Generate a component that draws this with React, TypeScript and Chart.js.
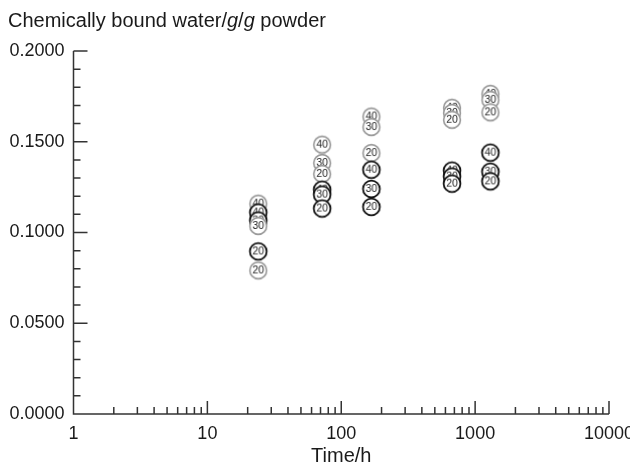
import React, { useEffect, useRef } from 'react';
import { Chart, registerables } from 'chart.js';

Chart.register(...registerables);

// Time (h)
const times = [24, 72, 168, 672, 1300];
// Gray series, labelled by temperature tag inside circles
const gray40 = [0.1159, 0.1484, 0.1639, 0.1687, 0.1764];
const gray30 = [0.1036, 0.1383, 0.1581, 0.1659, 0.1731];
const gray20 = [0.0791, 0.1323, 0.1438, 0.1621, 0.1662];
// Black series
const black40 = [0.1110, 0.1236, 0.1346, 0.1341, 0.1440];
const black30 = [0.1066, 0.1209, 0.1240, 0.1308, 0.1335];
const black20 = [0.0896, 0.1132, 0.1141, 0.1269, 0.1282];

const yTickValues = [0, 0.05, 0.1, 0.15, 0.2];
const xTickValues = [1, 10, 100, 1000, 10000];

const FONT = "'Liberation Sans', Arial, Helvetica, sans-serif";
const GRAY = '#999999';
const BLACK = '#111111';
const AXIS = '#333333';
const TEXT = '#1a1a1a';

const seriesDefs = [
  { tag: '40', color: GRAY, width: 1.6, values: gray40 },
  { tag: '30', color: GRAY, width: 1.6, values: gray30 },
  { tag: '20', color: GRAY, width: 1.6, values: gray20 },
  { tag: '40', color: BLACK, width: 1.8, values: black40 },
  { tag: '30', color: BLACK, width: 1.8, values: black30 },
  { tag: '20', color: BLACK, width: 1.8, values: black20 },
];

function makeMarker(tag: string, color: string, width: number): HTMLCanvasElement {
  const c = document.createElement('canvas');
  c.width = 22;
  c.height = 22;
  const g = c.getContext('2d')!;
  g.beginPath();
  g.arc(11, 11, 8.4, 0, Math.PI * 2);
  g.fillStyle = '#ffffff';
  g.fill();
  g.lineWidth = width;
  g.strokeStyle = color;
  g.stroke();
  g.fillStyle = TEXT;
  g.font = `10.5px ${FONT}`;
  g.textAlign = 'center';
  g.textBaseline = 'middle';
  g.fillText(tag, 11, 11.5);
  return c;
}

const axesPlugin = {
  id: 'customAxes',
  beforeDatasetsDraw(chart: any) {
    const { ctx, scales } = chart;
    const x = scales.x;
    const y = scales.y;
    const x0 = x.getPixelForValue(xTickValues[0]);
    const x1 = x.getPixelForValue(xTickValues[xTickValues.length - 1]);
    const y0 = y.getPixelForValue(yTickValues[0]);
    const y1 = y.getPixelForValue(yTickValues[yTickValues.length - 1]);
    ctx.save();
    ctx.strokeStyle = AXIS;
    ctx.lineWidth = 1.5;
    ctx.beginPath();
    ctx.moveTo(x0, y1);
    ctx.lineTo(x0, y0);
    ctx.lineTo(x1, y0);
    for (let k = 0; k <= 20; k++) {
      const py = y.getPixelForValue(k * 0.01);
      const len = k % 5 === 0 ? 14 : 7;
      ctx.moveTo(x0, py);
      ctx.lineTo(x0 + len, py);
    }
    for (let d = 0; d < xTickValues.length; d++) {
      const dec = xTickValues[d];
      const maxM = d === xTickValues.length - 1 ? 1 : 9;
      for (let m = 1; m <= maxM; m++) {
        const px = x.getPixelForValue(dec * m);
        const len = m === 1 ? 13 : 7;
        ctx.moveTo(px, y0);
        ctx.lineTo(px, y0 - len);
      }
    }
    ctx.stroke();
    ctx.restore();
  },
  afterDraw(chart: any) {
    const { ctx } = chart;
    ctx.save();
    ctx.fillStyle = TEXT;
    ctx.textBaseline = 'alphabetic';
    ctx.textAlign = 'left';
    const parts: [string, boolean][] = [
      ['Chemically bound water/', false],
      ['g', true],
      ['/', false],
      ['g', true],
      [' powder', false],
    ];
    let px = 8;
    for (const [t, it] of parts) {
      ctx.font = `${it ? 'italic ' : ''}20px ${FONT}`;
      ctx.fillText(t, px, 27);
      px += ctx.measureText(t).width;
    }
    ctx.restore();
  },
};

export default function App() {
  const ref = useRef<HTMLCanvasElement | null>(null);
  useEffect(() => {
    if (!ref.current) return;
    const pts: { x: number; y: number; img: HTMLCanvasElement }[] = [];
    for (const s of seriesDefs) {
      const img = makeMarker(s.tag, s.color, s.width);
      s.values.forEach((v, i) => pts.push({ x: times[i], y: v, img }));
    }
    pts.sort((a, b) => b.y - a.y);
    const chart = new Chart(ref.current, {
      type: 'scatter',
      data: {
        datasets: [
          {
            data: pts.map((p) => ({ x: p.x, y: p.y })),
            pointStyle: pts.map((p) => p.img) as any,
            pointRadius: 9,
            pointHoverRadius: 9,
          },
        ],
      },
      options: {
        responsive: false,
        animation: false,
        layout: { padding: { top: 51, right: 21, left: 0, bottom: 0 } },
        plugins: { legend: { display: false }, tooltip: { enabled: false } },
        scales: {
          x: {
            type: 'logarithmic',
            position: 'bottom',
            min: 1,
            max: 10000,
            grid: { display: false, drawTicks: false },
            border: { display: false },
            ticks: {
              autoSkip: false,
              maxRotation: 0,
              padding: 9,
              color: TEXT,
              font: { family: FONT, size: 18 },
              callback: (v: any) => String(v),
            },
            afterBuildTicks: (s: any) => {
              s.ticks = xTickValues.map((v) => ({ value: v }));
            },
            afterFit: (s: any) => {
              s.height = 55;
              s.paddingLeft = 0;
              s.paddingRight = 0;
            },
            title: {
              display: true,
              text: 'Time/h',
              color: TEXT,
              font: { family: FONT, size: 20 },
              padding: { top: 0, bottom: 1 },
            },
          } as any,
          y: {
            type: 'linear',
            min: 0,
            max: 0.2,
            grid: { display: false, drawTicks: false },
            border: { display: false },
            ticks: {
              padding: 9,
              color: TEXT,
              font: { family: FONT, size: 18 },
              callback: (v: any) => Number(v).toFixed(4),
            },
            afterBuildTicks: (s: any) => {
              s.ticks = yTickValues.map((v) => ({ value: v }));
            },
            afterFit: (s: any) => {
              s.width = 73.5;
              s.paddingTop = 0;
              s.paddingBottom = 0;
            },
          } as any,
        },
      },
      plugins: [axesPlugin],
    });
    return () => chart.destroy();
  }, []);

  return (
    <div style={{ position: 'fixed', left: 0, top: 0, width: 630, height: 469, background: '#fff' }}>
      <canvas ref={ref} width={630} height={469} style={{ display: 'block', width: 630, height: 469 }} />
    </div>
  );
}
